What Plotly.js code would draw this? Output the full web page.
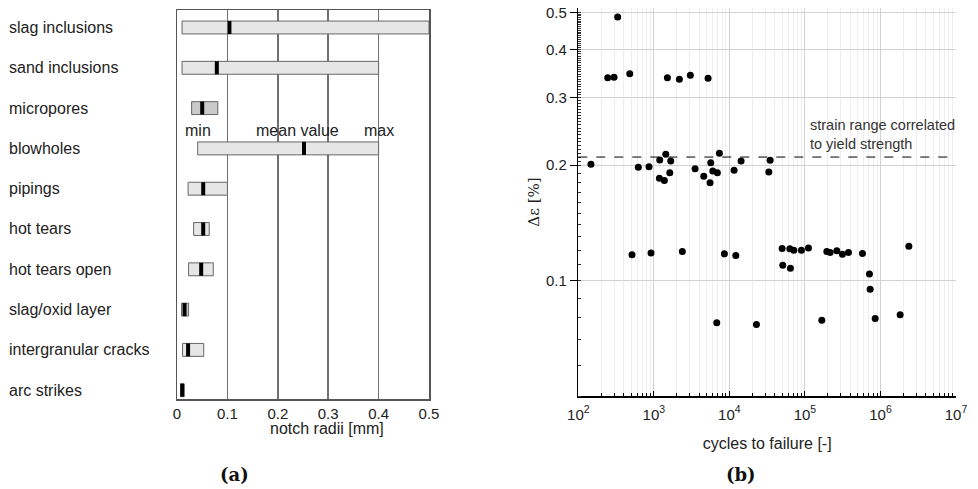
<!DOCTYPE html>
<html>
<head>
<meta charset="utf-8">
<script src="https://cdn.plot.ly/plotly-3.0.1.min.js"></script>
<style>html,body{margin:0;padding:0;background:#fff;}#chart{width:978px;height:489px;}</style>
</head>
<body>
<div id="chart"></div>
<script>
// ---- (a) notch radii per defect type ----
const categories = ['slag inclusions','sand inclusions','micropores','blowholes','pipings','hot tears','hot tears open','slag/oxid layer','intergranular cracks','arc strikes'];
const minRadius  = [0.010, 0.010, 0.029, 0.041, 0.022, 0.033, 0.023, 0.009, 0.011, 0.007];
const maxRadius  = [0.500, 0.400, 0.081, 0.400, 0.100, 0.064, 0.072, 0.023, 0.053, 0.014];
const meanRadius = [0.104, 0.079, 0.050, 0.252, 0.052, 0.052, 0.048, 0.015, 0.022, 0.0105];
const radiusTicks = [0, 0.1, 0.2, 0.3, 0.4, 0.5];
const radiusTickText = ['0', '0.1', '0.2', '0.3', '0.4', '0.5'];

// ---- (b) strain range vs cycles to failure ----
const cycles = [147, 245, 297, 332, 480, 623, 863, 1197, 1185, 1377, 1438, 1511, 1675, 1625, 2178, 3044,
  3514, 4580, 5224, 5670, 5550, 6027, 6937, 7377, 11540, 14290, 33270, 34600,
  514, 918, 2384, 6806, 8590, 12160, 22800,
  49900, 50900, 63100, 71300, 64300, 89900, 111300, 167400, 195000, 215600, 264400, 313800, 376800,
  577600, 714900, 730000, 851000, 1823000, 2377000];
const strainRange = [0.201, 0.338, 0.339, 0.487, 0.3465, 0.1976, 0.198, 0.2064, 0.185, 0.1825, 0.2135, 0.338, 0.205, 0.191, 0.335, 0.343,
  0.1956, 0.187, 0.337, 0.203, 0.180, 0.193, 0.191, 0.215, 0.194, 0.205, 0.192, 0.206,
  0.1167, 0.118, 0.119, 0.0776, 0.1174, 0.1163, 0.0768,
  0.1213, 0.1096, 0.121, 0.120, 0.1077, 0.120, 0.1217, 0.0788, 0.119, 0.1184, 0.1196, 0.1172, 0.1184,
  0.1177, 0.104, 0.095, 0.0796, 0.0814, 0.1229];
const yieldStrain = 0.21;
const cycleTicks = [1e2, 1e3, 1e4, 1e5, 1e6, 1e7];
const cycleTickText = ['10<sup>2</sup>', '10<sup>3</sup>', '10<sup>4</sup>', '10<sup>5</sup>', '10<sup>6</sup>', '10<sup>7</sup>'];
const strainTicks = [0.1, 0.2, 0.3, 0.4, 0.5];
const strainTickText = ['0.1', '0.2', '0.3', '0.4', '0.5'];

// ---- styles ----
const darkerRows = ['micropores', 'slag/oxid layer'];
const barFill = categories.map(c => darkerRows.includes(c) ? '#c9c9c9' : '#e6e6e6');
const F = 'Liberation Sans, Arial, sans-serif';

// minor ticks (axis decoration)
const cycleMinor = [];
for (let e = 2; e < 7; e++) for (let m = 2; m <= 9; m++) cycleMinor.push(m * Math.pow(10, e));
const strainMinor = [];
for (let v = 0.05; v <= 0.2001; v += 0.01) strainMinor.push(+v.toFixed(3));
for (let v = 0.205; v <= 0.5001; v += 0.005) strainMinor.push(+v.toFixed(3));

const traces = [
  {
    type: 'bar', orientation: 'h', xaxis: 'x', yaxis: 'y',
    y: categories,
    x: maxRadius.map((v, i) => v - minRadius[i]),
    base: minRadius,
    width: 0.32,
    marker: { color: barFill, line: { color: '#666', width: 1 } },
    hoverinfo: 'skip', showlegend: false
  },
  {
    type: 'scatter', mode: 'markers', xaxis: 'x', yaxis: 'y',
    x: meanRadius, y: categories,
    marker: { symbol: 'line-ns', size: 9.3, color: '#000', line: { color: '#000', width: 4 } },
    hoverinfo: 'skip', showlegend: false
  },
  {
    type: 'scatter', mode: 'markers', xaxis: 'x2', yaxis: 'y2',
    x: cycles, y: strainRange,
    marker: { size: 7, color: '#000' },
    showlegend: false
  }
];

const rowSpan = 40.3;
const annotations = categories.map(c => ({
  text: c, xref: 'paper', yref: 'y', x: 7 / 978, y: c, xanchor: 'left', yanchor: 'middle',
  showarrow: false, font: { family: F, size: 16, color: '#222' }
}));
const bi = categories.indexOf('blowholes');
annotations.push(
  { text: 'min', xref: 'x', yref: 'y', x: minRadius[bi], y: categories[bi], yshift: 18, showarrow: false, font: { family: F, size: 16, color: '#222' } },
  { text: 'mean value', xref: 'x', yref: 'y', x: meanRadius[bi], y: categories[bi], xshift: -7, yshift: 18, showarrow: false, font: { family: F, size: 16, color: '#222' } },
  { text: 'max', xref: 'x', yref: 'y', x: maxRadius[bi], y: categories[bi], yshift: 18, showarrow: false, font: { family: F, size: 16, color: '#222' } },
  { text: 'notch radii [mm]', xref: 'paper', yref: 'paper', x: 326.7 / 978, y: 1 - 428 / 489, xanchor: 'center', yanchor: 'middle', showarrow: false, font: { family: F, size: 16, color: '#222' } },
  { text: '<b>(a)</b>', xref: 'paper', yref: 'paper', x: 234 / 978, y: 1 - 474 / 489, xanchor: 'center', yanchor: 'middle', showarrow: false, font: { family: 'DejaVu Serif, serif', size: 18, color: '#111' } },
  { text: '<b>(b)</b>', xref: 'paper', yref: 'paper', x: 741 / 978, y: 1 - 474 / 489, xanchor: 'center', yanchor: 'middle', showarrow: false, font: { family: 'DejaVu Serif, serif', size: 18, color: '#111' } },
  { text: 'strain range correlated<br>to yield strength', xref: 'paper', yref: 'y2', x: 808 / 978, y: Math.log10(yieldStrain), xanchor: 'left', yanchor: 'bottom', yshift: 3, align: 'left', showarrow: false, font: { family: F, size: 14.5, color: '#333' } }
);

const layout = {
  width: 978, height: 489,
  margin: { l: 0, r: 0, t: 0, b: 0 },
  paper_bgcolor: '#fff', plot_bgcolor: '#fff',
  font: { family: F, color: '#222' },
  showlegend: false,
  xaxis: {
    domain: [177 / 978, 429 / 978], anchor: 'y', range: [0, 0.5],
    tickmode: 'array', tickvals: radiusTicks, ticktext: radiusTickText,
    ticks: '', showgrid: true, gridcolor: '#707070', gridwidth: 1.5, zeroline: false,
    showline: true, mirror: true, linecolor: '#555', linewidth: 1.5,
    tickfont: { family: F, size: 15, color: '#222' }, fixedrange: true
  },
  yaxis: {
    domain: [(489 - 399) / 489, (489 - 10) / 489], anchor: 'x',
    type: 'category', categoryorder: 'array', categoryarray: categories,
    range: [(399 - 27.5) / rowSpan, -(27.5 - 10) / rowSpan],
    showticklabels: false, ticks: '', showgrid: false, zeroline: false,
    showline: true, mirror: true, linecolor: '#555', linewidth: 1.5, fixedrange: true
  },
  xaxis2: {
    domain: [578.3 / 978, 956 / 978], anchor: 'y2', type: 'log', range: [2, 7],
    tickmode: 'array', tickvals: cycleTicks, ticktext: cycleTickText,
    ticks: 'inside', ticklen: 5, tickcolor: '#000', tickwidth: 1,
    ticklabelstandoff: 4,
    showline: true, linecolor: '#000', linewidth: 1.5,
    showgrid: true, gridcolor: '#d2d2d2', gridwidth: 1, zeroline: false,
    minor: { tickmode: 'array', tickvals: cycleMinor, ticks: 'inside', ticklen: 3, tickcolor: '#000', showgrid: true, gridcolor: '#eeeeee', gridwidth: 1 },
    tickfont: { family: F, size: 15, color: '#222' },
    title: { text: 'cycles to failure [-]', font: { family: F, size: 16, color: '#222' }, standoff: 16 },
    fixedrange: true
  },
  yaxis2: {
    domain: [(489 - 396) / 489, (489 - 8) / 489], anchor: 'x2', type: 'log',
    range: [Math.log10(0.05), Math.log10(0.514)],
    tickmode: 'array', tickvals: strainTicks, ticktext: strainTickText,
    ticks: 'outside', ticklen: 7, tickcolor: '#000', tickwidth: 1,
    showline: true, linecolor: '#000', linewidth: 1.5,
    showgrid: true, gridcolor: '#d2d2d2', gridwidth: 1, zeroline: false,
    minor: { tickmode: 'array', tickvals: strainMinor, ticks: 'inside', ticklen: 3, tickcolor: '#333', showgrid: false },
    tickfont: { family: F, size: 15, color: '#222' },
    title: { text: 'Δε [%]', font: { family: 'DejaVu Serif, serif', size: 15, color: '#222' }, standoff: 2 },
    fixedrange: true
  },
  shapes: [
    { type: 'line', xref: 'x2 domain', yref: 'y2', x0: 0, x1: 1, y0: yieldStrain, y1: yieldStrain,
      line: { color: '#000', width: 1, dash: 'dash' } }
  ],
  annotations: annotations
};

Plotly.newPlot('chart', traces, layout, { displayModeBar: false, staticPlot: true });
</script>
</body>
</html>
